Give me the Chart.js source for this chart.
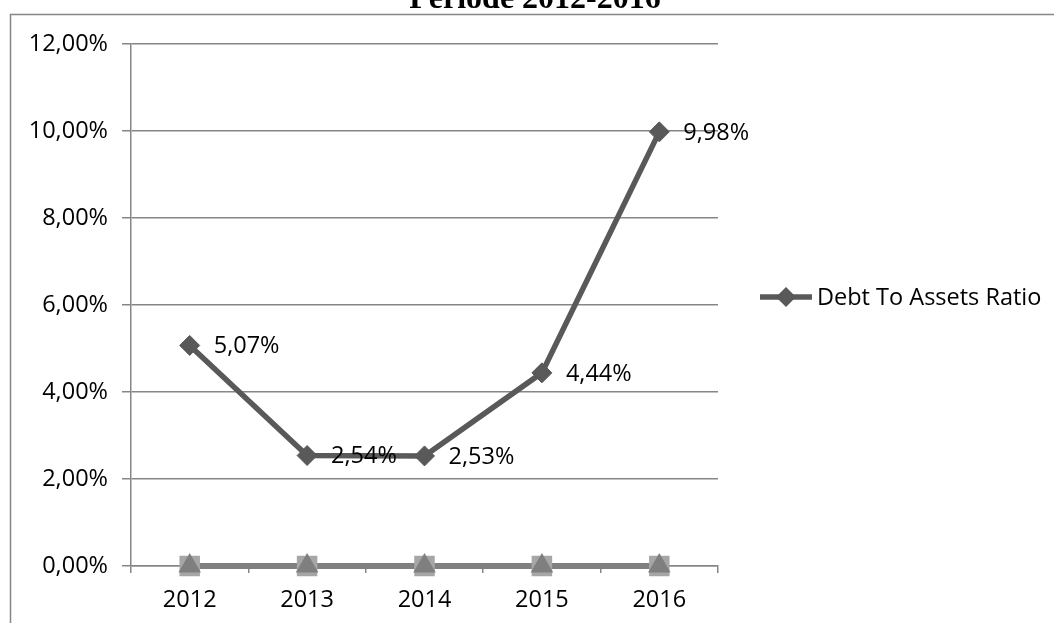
<!DOCTYPE html>
<html lang="id">
<head>
<meta charset="UTF-8">
<title>Debt To Assets Ratio Periode 2012-2016</title>
<script src="https://cdn.jsdelivr.net/npm/chart.js"></script>
<style>
    body { margin: 0; background: #fff; }
    #wrap { position: relative; width: 1054px; height: 623px; }
</style>
</head>
<body>
<div id="wrap"><canvas id="grafik"></canvas></div>
<script>
// data
const tahun = ["2012", "2013", "2014", "2015", "2016"];
const debtToAssets = [5.07, 2.54, 2.53, 4.44, 9.98];
const seriKotak = [0, 0, 0, 0, 0];
const seriSegitiga = [0, 0, 0, 0, 0];
const judul = "Periode 2012-2016";
const namaSeri = "Debt To Assets Ratio";
const skalaY = { min: 0, max: 12, step: 2 };

const huruf = '"Open Sans", sans-serif';
const ukuran = 23.5;
const abuGaris = '#868686';

function persen(v) {
    return v.toFixed(2).replace('.', ',') + '%';
}

// bingkai, judul, label nilai dan legenda
const hiasan = {
    id: 'hiasan',
    beforeDraw(chart) {
        const c = chart.ctx;
        c.save();
        c.fillStyle = '#fff';
        c.fillRect(0, 0, chart.width, chart.height);
        c.strokeStyle = abuGaris;
        c.lineWidth = 1.5;
        c.beginPath();
        c.moveTo(10.5, chart.height);
        c.lineTo(10.5, 14.5);
        c.lineTo(chart.width, 14.5);
        c.stroke();
        c.font = 'bold 32px "Liberation Serif", serif';
        c.fillStyle = '#000';
        c.textAlign = 'center';
        c.textBaseline = 'alphabetic';
        c.fillText(judul, 535, 8);
        c.restore();
    },
    afterDatasetsDraw(chart) {
        const c = chart.ctx;
        const meta = chart.getDatasetMeta(0);
        c.save();
        c.font = ukuran + 'px ' + huruf;
        c.fillStyle = '#000';
        c.textAlign = 'left';
        c.textBaseline = 'middle';
        meta.data.forEach((p, i) => {
            c.fillText(persen(debtToAssets[i]), p.x + 24, p.y + 1);
        });

        // legenda
        const ly = 297;
        c.strokeStyle = '#595959';
        c.lineWidth = 5.5;
        c.beginPath();
        c.moveTo(760, ly);
        c.lineTo(812, ly);
        c.stroke();
        c.fillStyle = '#595959';
        c.beginPath();
        c.moveTo(786, ly - 10);
        c.lineTo(796, ly);
        c.lineTo(786, ly + 10);
        c.lineTo(776, ly);
        c.closePath();
        c.fill();
        c.fillStyle = '#000';
        c.fillText(namaSeri, 817, ly + 1);
        c.restore();
    }
};

new Chart(document.getElementById('grafik'), {
    type: 'line',
    data: {
        labels: tahun,
        datasets: [{
            label: namaSeri,
            data: debtToAssets,
            borderColor: '#595959',
            backgroundColor: '#595959',
            borderWidth: 5.5,
            pointStyle: 'rectRot',
            pointRadius: 10,
            pointBorderWidth: 1,
            pointBackgroundColor: '#595959',
            pointBorderColor: '#595959',
            tension: 0,
            clip: false
        }, {
            label: 'segitiga',
            data: seriSegitiga,
            showLine: false,
            pointStyle: 'triangle',
            pointRadius: 13,
            pointBorderWidth: 0,
            pointBackgroundColor: '#7f7f7f',
            pointBorderColor: '#7f7f7f',
            clip: false
        }, {
            label: 'kotak',
            data: seriKotak,
            borderColor: '#808080',
            borderWidth: 6,
            pointStyle: 'rect',
            pointRadius: 14.5,
            pointBorderWidth: 0,
            pointBackgroundColor: '#a6a6a6',
            pointBorderColor: '#a6a6a6',
            tension: 0,
            clip: false
        }]
    },
    options: {
        responsive: true,
        maintainAspectRatio: false,
        animation: false,
        layout: { padding: { left: 10, top: 44, right: 336, bottom: 0 } },
        plugins: {
            legend: { display: false },
            tooltip: { enabled: false }
        },
        scales: {
            x: {
                offset: true,
                grid: {
                    offset: true,
                    drawOnChartArea: false,
                    tickLength: 7,
                    color: abuGaris,
                    lineWidth: 1.5
                },
                border: { color: abuGaris, width: 1.5 },
                ticks: { color: '#000', font: { family: huruf, size: ukuran }, padding: 13 },
                afterFit(s) { s.height = 57; }
            },
            y: {
                min: skalaY.min,
                max: skalaY.max,
                grid: { color: abuGaris, lineWidth: 1.5, tickLength: 9 },
                border: { color: abuGaris, width: 1.5 },
                ticks: {
                    stepSize: skalaY.step,
                    color: '#000',
                    font: { family: huruf, size: ukuran },
                    padding: 14,
                    callback: v => persen(v)
                },
                afterFit(s) { s.width = 121; }
            }
        }
    },
    plugins: [hiasan]
});
</script>
</body>
</html>
